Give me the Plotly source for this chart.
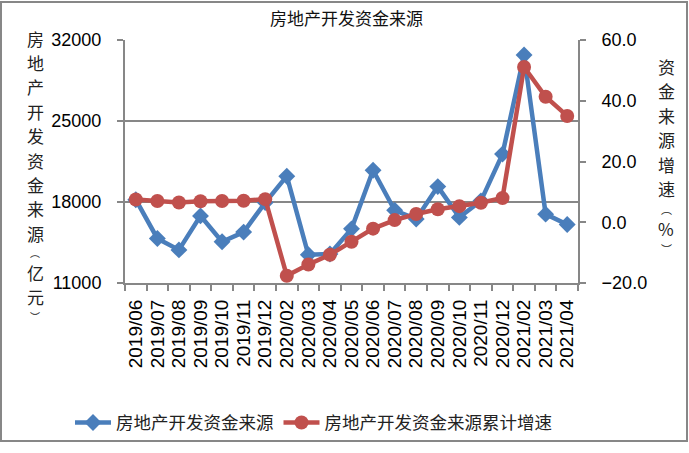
import plotly.graph_objects as go

categories = ["2019/06", "2019/07", "2019/08", "2019/09", "2019/10", "2019/11", "2019/12",
              "2020/02", "2020/03", "2020/04", "2020/05", "2020/06", "2020/07", "2020/08",
              "2020/09", "2020/10", "2020/11", "2020/12", "2021/02", "2021/03", "2021/04"]
funds = [18200, 14850, 13860, 16800, 14560, 15400, 17950,
         20230, 13440, 13500, 15680, 20740, 17290, 16530,
         19330, 16670, 18100, 22140, 30700, 16950, 16050]
growth = [7.5, 7.0, 6.5, 6.9, 7.0, 7.1, 7.6,
          -17.6, -13.9, -10.7, -6.4, -2.1, 0.7, 2.7,
          4.3, 5.3, 6.4, 8.0, 51.1, 41.3, 35.0]

name_funds = "房地产开发资金来源"
name_growth = "房地产开发资金来源累计增速"
title_text = "房地产开发资金来源"
left_title = ["房", "地", "产", "开", "发", "资", "金", "来", "源", "︵", "亿", "元", "︶"]
right_title = ["资", "金", "来", "源", "增", "速", "︵", "%", "︶"]
left_ticks = [11000, 18000, 25000, 32000]
left_ticktext = ["11000", "18000", "25000", "32000"]
right_ticks = [-20, 0, 20, 40, 60]

W, H = 689, 453
L, R, T, B = 125, 578, 40, 289
PW, PH = R - L, B - T

def xp(px):
    return (px - L) / PW

def yp(py):
    return (B - py) / PH

BLUE = "#4A7EBB"
RED = "#C0504D"
GRID = "#878787"
CJK = "Noto Sans CJK SC"
NUM = "Liberation Sans"
PARENS = ("︵", "︶")

fig = go.Figure()
fig.add_trace(go.Scatter(
    x=categories, y=funds, name=name_funds, mode="lines+markers",
    line=dict(color=BLUE, width=4.5),
    marker=dict(symbol="diamond", size=13, color=BLUE),
    yaxis="y"))
fig.add_trace(go.Scatter(
    x=categories, y=growth, name=name_growth, mode="lines+markers",
    line=dict(color=RED, width=4.5),
    marker=dict(symbol="circle", size=14, color=RED),
    yaxis="y2"))

ann = []
ann.append(dict(text=title_text, x=xp(346), y=yp(17), xref="paper", yref="paper",
                showarrow=False, xanchor="center", yanchor="middle",
                font=dict(family=CJK, size=17, color="#111")))


def stack(chars, px, top_center, main_size=17, paren_size=10, gap=0.4):
    """Place characters one below another without overlapping line boxes."""
    out = []
    k = 1.448
    prev_bottom = None
    for ch in chars:
        size = paren_size if ch in PARENS else main_size
        h = size * k
        if prev_bottom is None:
            c = top_center
        else:
            c = prev_bottom + gap + h / 2
        prev_bottom = c + h / 2
        out.append(dict(text=ch, x=xp(px), y=yp(c), xref="paper", yref="paper",
                        showarrow=False, xanchor="center", yanchor="middle",
                        font=dict(family=CJK, size=size, color="#222")))
    return out

ann += stack(left_title, 35, 38)
ann += stack(right_title, 666, 67, paren_size=11)

fig.update_layout(
    width=W, height=H,
    margin=dict(l=L, r=W - R, t=T, b=H - B, pad=0),
    paper_bgcolor="white", plot_bgcolor="white",
    showlegend=True,
    legend=dict(orientation="h", x=xp(70), y=yp(432), xanchor="left", yanchor="middle",
                font=dict(family=CJK, size=17.5, color="#222"), itemwidth=36,
                tracegroupgap=0, bgcolor="rgba(0,0,0,0)"),
    xaxis=dict(type="category", range=[-0.5, len(categories) - 0.5],
               tickmode="array", tickvals=categories, ticktext=categories,
               tickson="boundaries", ticks="outside", ticklen=6,
               tickcolor=GRID, tickwidth=1.5, showline=True, linecolor=GRID, linewidth=2,
               showgrid=False, tickangle=-90, ticklabelstandoff=7,
               tickfont=dict(family=NUM, size=19, color="#000")),
    yaxis=dict(range=[11000, 32000], tickmode="array", tickvals=left_ticks, ticktext=left_ticktext,
               ticks="outside", ticklen=6,
               tickcolor=GRID, tickwidth=1.5, showline=True, linecolor=GRID, linewidth=2,
               showgrid=True, gridcolor=GRID, gridwidth=1.5, zeroline=False,
               ticklabelstandoff=12,
               tickfont=dict(family=NUM, size=18, color="#000")),
    yaxis2=dict(range=[-20, 60], tickmode="array", tickvals=right_ticks, tickformat=".1f",
                overlaying="y", side="right", ticks="outside", ticklen=6, tickcolor=GRID,
                tickwidth=1.5, showline=True, linecolor=GRID, linewidth=2, showgrid=False,
                zeroline=False, ticklabelstandoff=12,
                tickfont=dict(family=NUM, size=18, color="#000")),
    annotations=ann,
    shapes=[dict(type="rect", xref="paper", yref="paper",
                 x0=xp(1), x1=xp(687), y0=yp(451), y1=yp(1),
                 line=dict(color=GRID, width=2), layer="below")],
)

fig.write_html("out.html")
